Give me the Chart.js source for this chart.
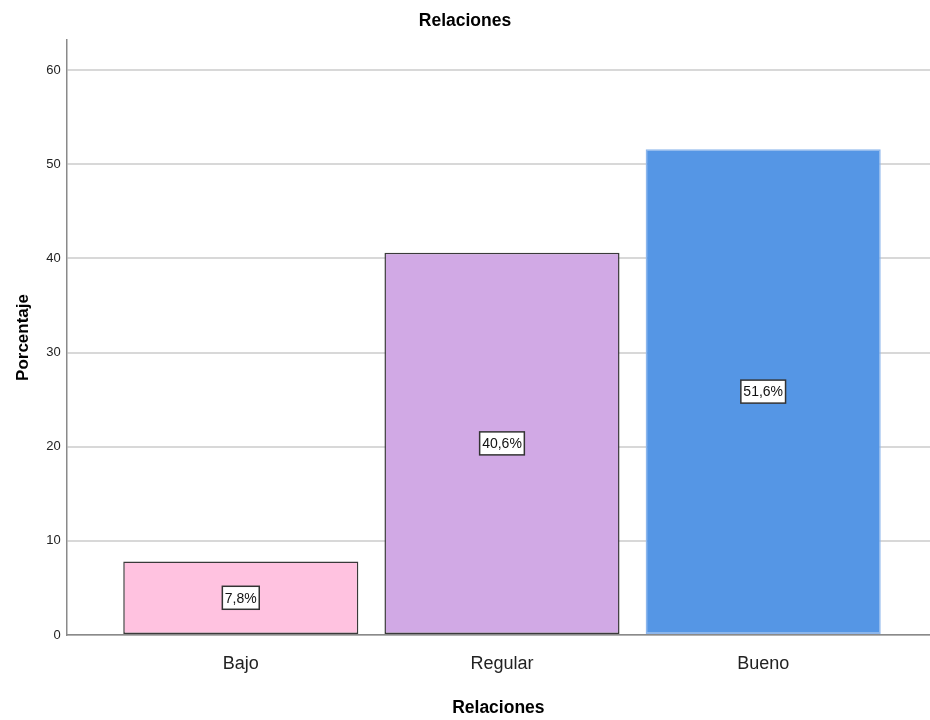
<!DOCTYPE html>
<html>
<head>
<meta charset="utf-8">
<title>Relaciones</title>
<script src="https://cdn.jsdelivr.net/npm/chart.js@4"></script>
<style>
  html, body { margin: 0; padding: 0; background: #fff; }
  #wrap { width: 930px; height: 720px; }
</style>
</head>
<body>
<div id="wrap"><canvas id="barChart" width="930" height="720"></canvas></div>
<script>
// values
const categories = ['Bajo', 'Regular', 'Bueno'];
const percentages = [7.8, 40.6, 51.6];
const percentLabels = ['7,8%', '40,6%', '51,6%'];
const yTicks = [0, 10, 20, 30, 40, 50, 60];
const barColors = ['#FFC2E0', '#D1A9E5', '#5596E5'];
const barBorders = ['#3a3a3a', '#3a3a3a', '#8DB6EC'];

const FONT = "'Liberation Sans', Arial, sans-serif";

// boxed percentage label in the middle of each bar
const boxLabels = {
    id: 'boxLabels',
    afterDatasetsDraw(chart) {
        const ctx = chart.ctx;
        const meta = chart.getDatasetMeta(0);
        ctx.save();
        ctx.font = '14px ' + FONT;
        ctx.textAlign = 'center';
        ctx.textBaseline = 'middle';
        meta.data.forEach((bar, i) => {
            const txt = percentLabels[i];
            const cy = (bar.y + bar.base) / 2;
            const w = ctx.measureText(txt).width + 5;
            const h = 23;
            ctx.fillStyle = '#ffffff';
            ctx.fillRect(bar.x - w / 2, cy - h / 2, w, h);
            ctx.strokeStyle = '#333333';
            ctx.lineWidth = 1.5;
            ctx.strokeRect(bar.x - w / 2, cy - h / 2, w, h);
            ctx.fillStyle = '#111111';
            ctx.fillText(txt, bar.x, cy + 1);
        });
        ctx.restore();
    }
};

const points = categories.map((c, i) => ({ x: i + 1, y: percentages[i] }));

new Chart(document.getElementById('barChart'), {
    type: 'bar',
    data: {
        datasets: [{
            data: points,
            backgroundColor: barColors,
            borderColor: barBorders,
            borderWidth: 1.5,
            borderSkipped: false,
            categoryPercentage: 1,
            barPercentage: 0.9
        }]
    },
    options: {
        responsive: false,
        animation: false,
        layout: { padding: 0 },
        scales: {
            x: {
                type: 'linear',
                offset: false,
                min: 0.3335,
                max: 3.6386,
                afterBuildTicks: axis => { axis.ticks = categories.map((c, i) => ({ value: i + 1 })); },
                afterFit: axis => { axis.height = 85; },
                ticks: {
                    callback: v => categories[v - 1] || '',
                    font: { family: FONT, size: 18 },
                    color: '#222',
                    padding: 10,
                    maxRotation: 0,
                    autoSkip: false
                },
                grid: { display: false, offset: false },
                border: { display: true, color: '#8a8a8a', width: 1.5 },
                title: {
                    display: true,
                    text: 'Relaciones',
                    font: { family: FONT, size: 17.5, weight: 'bold' },
                    color: '#000',
                    padding: { top: 0, bottom: 1 }
                }
            },
            y: {
                min: 0,
                max: 63.2,
                afterBuildTicks: axis => { axis.ticks = yTicks.map(v => ({ value: v })); },
                afterFit: axis => { axis.width = 66.7; },
                ticks: {
                    font: { family: FONT, size: 13 },
                    color: '#222',
                    padding: 6
                },
                grid: { color: '#d8d8d8', lineWidth: 2, drawTicks: false },
                border: { display: true, color: '#8a8a8a', width: 1.5 },
                title: {
                    display: true,
                    text: 'Porcentaje',
                    font: { family: FONT, size: 17, weight: 'bold' },
                    color: '#000',
                    padding: { top: 13, bottom: 0 }
                }
            }
        },
        plugins: {
            legend: { display: false },
            tooltip: { enabled: false },
            title: {
                display: true,
                text: 'Relaciones',
                font: { family: FONT, size: 17.5, weight: 'bold' },
                color: '#000',
                padding: { top: 11, bottom: 8 }
            }
        }
    },
    plugins: [boxLabels]
});
</script>
</body>
</html>
